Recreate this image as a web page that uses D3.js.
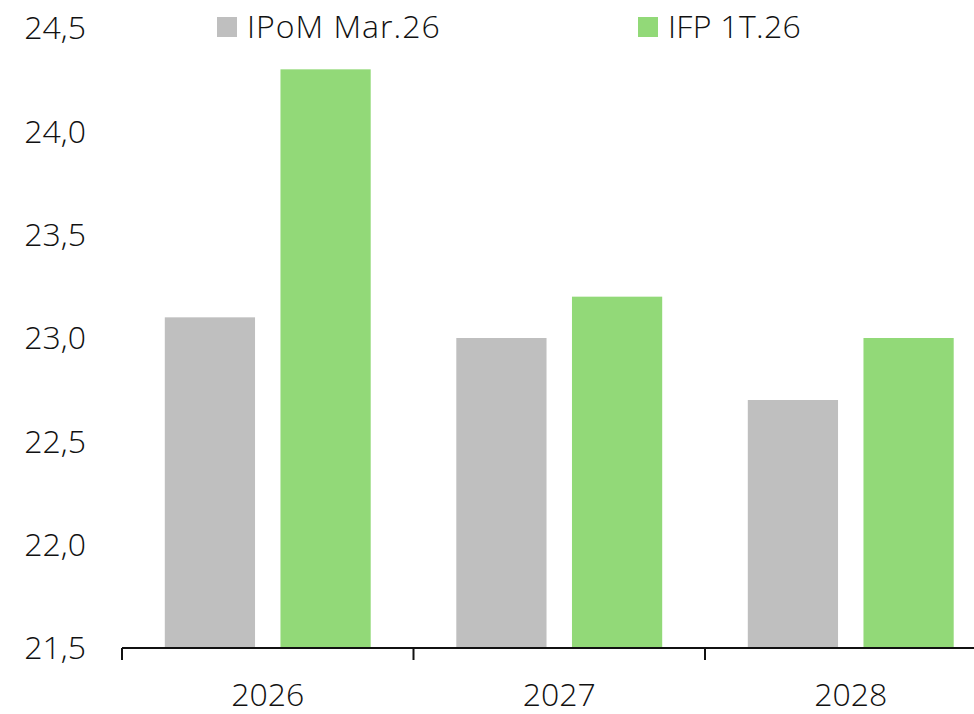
<!DOCTYPE html>
<html>
<head>
<meta charset="utf-8">
<script src="https://cdn.jsdelivr.net/npm/d3@7"></script>
<style>
    body { margin: 0; background: #fff; }
    svg text { font-family: "Open Sans", "Noto Sans", sans-serif; font-weight: 300; fill: #111; }
</style>
</head>
<body>
<div id="chart"></div>
<script>
// Data
var years = ["2026", "2027", "2028"];
var seriesNames = ["IPoM Mar.26", "IFP 1T.26"];
var ipomValues = [23.1, 23.0, 22.7];
var ifpValues = [24.3, 23.2, 23.0];
var yTicks = [21.5, 22.0, 22.5, 23.0, 23.5, 24.0, 24.5];
var colors = ["#bfbfbf", "#92d978"];

var width = 974;
var height = 714;

var svg = d3.select("#chart").append("svg")
    .attr("width", width)
    .attr("height", height);

// Scales
var xScale = d3.scaleBand()
    .domain(years)
    .range([122, 996.5]);

var xInner = d3.scaleBand()
    .domain(seriesNames)
    .range([0, xScale.bandwidth()])
    .paddingInner(0.22)
    .paddingOuter(0.37);

var yScale = d3.scaleLinear()
    .domain([21.5, 24.5])
    .range([648, 28]);

// y labels (no axis line)
svg.append("g")
    .selectAll("text")
    .data(yTicks)
    .enter().append("text")
    .attr("x", 86)
    .attr("y", function (d) { return yScale(d); })
    .attr("dy", "0.35em")
    .attr("text-anchor", "end")
    .style("font-size", "32px")
    .text(function (d) { return d3.format(".1f")(d).replace(".", ","); });

// Bars
var rows = years.map(function (y, i) {
    return { year: y, values: [ipomValues[i], ifpValues[i]] };
});

var groups = svg.append("g")
    .selectAll("g")
    .data(rows)
    .enter().append("g")
    .attr("transform", function (d) { return "translate(" + xScale(d.year) + ",0)"; });

groups.selectAll("rect")
    .data(function (d) {
        return d.values.map(function (v, j) { return { name: seriesNames[j], value: v, idx: j }; });
    })
    .enter().append("rect")
    .attr("x", function (d) { return xInner(d.name); })
    .attr("width", xInner.bandwidth())
    .attr("y", function (d) { return yScale(d.value); })
    .attr("height", function (d) { return yScale(21.5) - yScale(d.value); })
    .attr("fill", function (d) { return colors[d.idx]; });

// x axis
var xAxis = svg.append("g")
    .attr("transform", "translate(0," + yScale(21.5) + ")");

xAxis.append("line")
    .attr("x1", xScale.range()[0])
    .attr("x2", xScale.range()[1])
    .attr("stroke", "#111")
    .attr("stroke-width", 2);

xAxis.selectAll(".tick")
    .data(years)
    .enter().append("line")
    .attr("x1", function (d) { return xScale(d); })
    .attr("x2", function (d) { return xScale(d); })
    .attr("y1", 0)
    .attr("y2", 12)
    .attr("stroke", "#111")
    .attr("stroke-width", 2);

xAxis.selectAll("text")
    .data(years)
    .enter().append("text")
    .attr("x", function (d) { return xScale(d) + xScale.bandwidth() / 2; })
    .attr("y", 47)
    .attr("dy", "0.35em")
    .attr("text-anchor", "middle")
    .style("font-size", "32px")
    .text(function (d) { return d; });

// Legend
var legendX = [217, 638];
var legendSpacing = ["1px", "0.3px"];
var legend = svg.append("g")
    .selectAll("g")
    .data(seriesNames)
    .enter().append("g")
    .attr("transform", function (d, i) { return "translate(" + legendX[i] + ",17)"; });

legend.append("rect")
    .attr("width", 20)
    .attr("height", 20)
    .attr("fill", function (d, i) { return colors[i]; });

legend.append("text")
    .attr("x", 30)
    .attr("y", 10)
    .attr("dy", "0.35em")
    .style("font-size", "32px")
    .style("letter-spacing", function (d, i) { return legendSpacing[i]; })
    .text(function (d) { return d; });
</script>
</body>
</html>
